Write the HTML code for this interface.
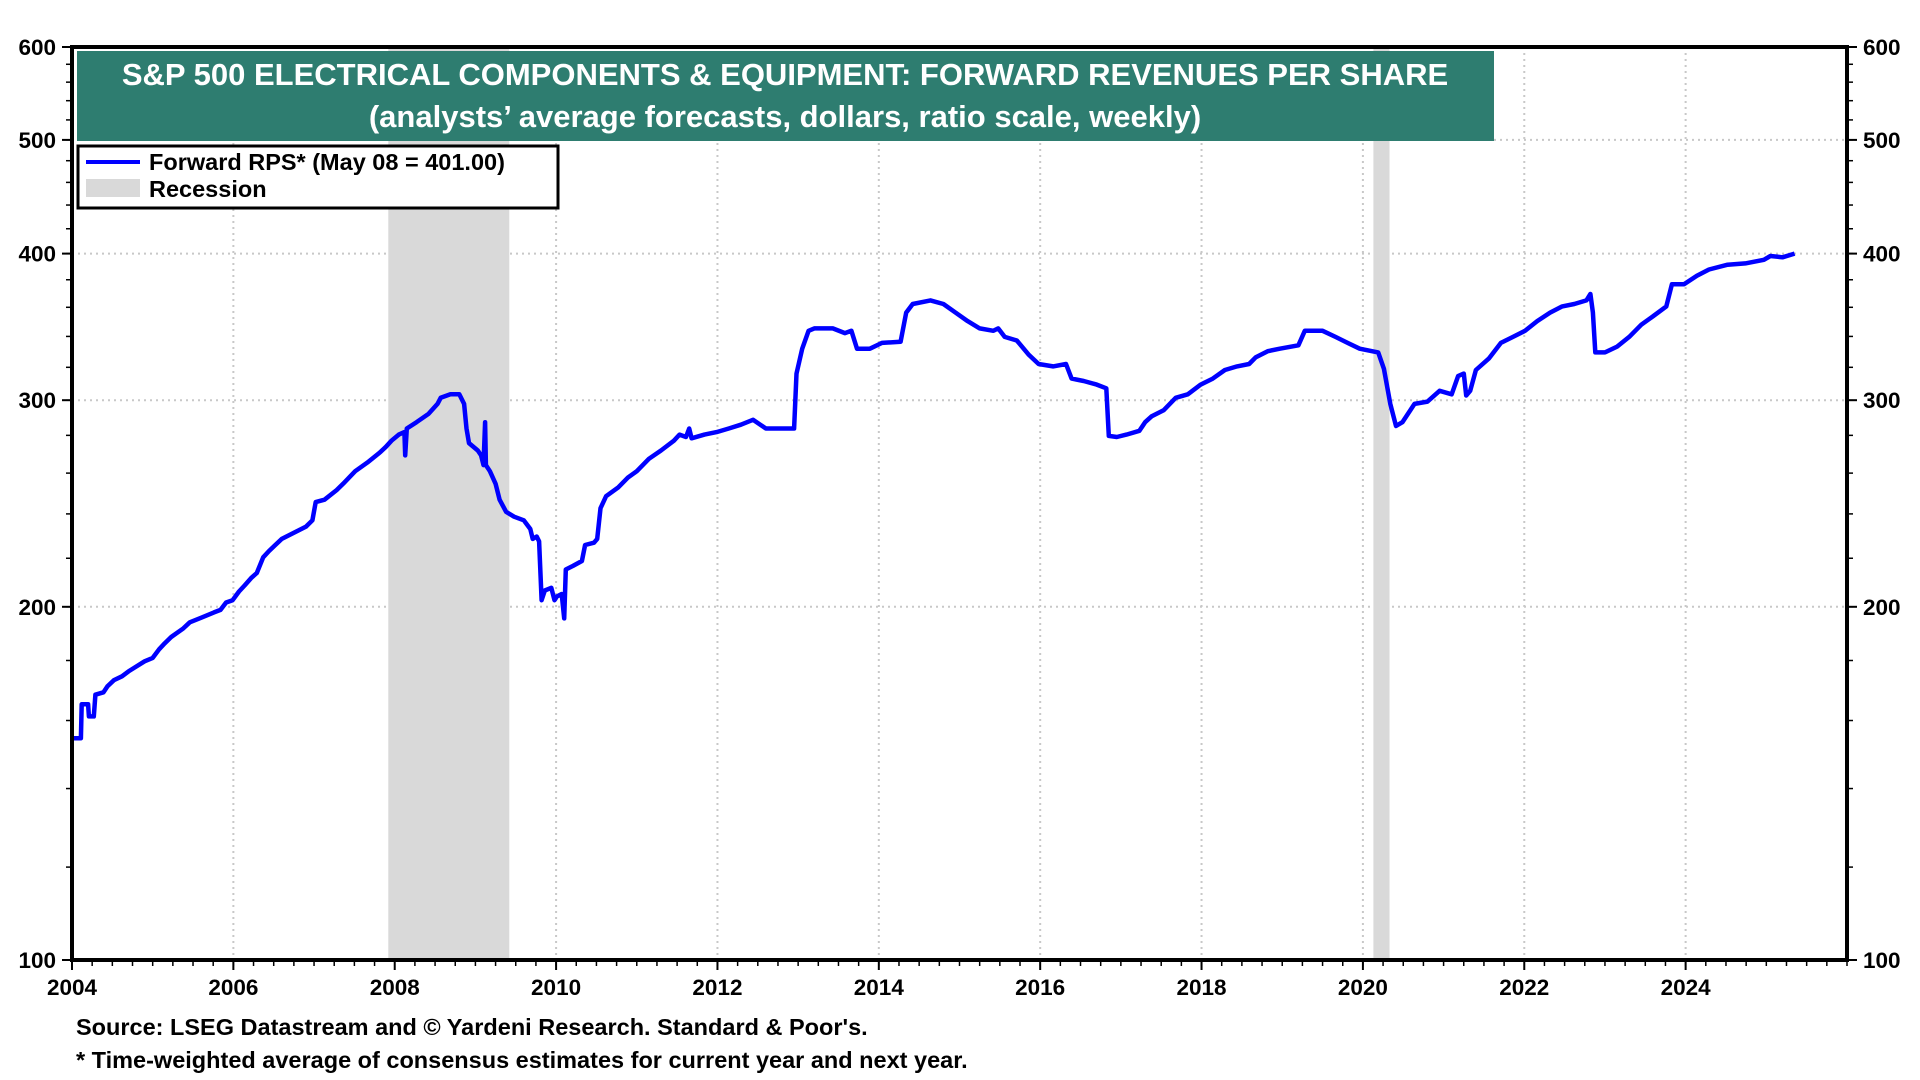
<!DOCTYPE html>
<html><head><meta charset="utf-8"><style>
html,body{margin:0;padding:0;background:#fff;width:1920px;height:1080px;overflow:hidden}
svg text{font-family:"Liberation Sans",Arial,sans-serif;font-weight:bold}
</style></head><body>
<svg id="chart" width="1920" height="1080" xmlns="http://www.w3.org/2000/svg">
<g id="grid"></g>
<g id="rec"></g>
<g id="series"></g>
<g id="axes"></g>
<rect x="77" y="51" width="1417" height="90" fill="#2e7d70"/>
<text x="785" y="85" font-size="31" fill="#fff" text-anchor="middle">S&amp;P 500 ELECTRICAL COMPONENTS &amp; EQUIPMENT: FORWARD REVENUES PER SHARE</text>
<text x="785" y="127" font-size="31" fill="#fff" text-anchor="middle">(analysts’ average forecasts, dollars, ratio scale, weekly)</text>
<g>
<rect x="78" y="146" width="480" height="62" fill="#fff" stroke="#000" stroke-width="3"/>
<line x1="86" y1="162" x2="140" y2="162" stroke="#0000ff" stroke-width="4"/>
<text x="149" y="170" font-size="23.5">Forward RPS* (May 08 = 401.00)</text>
<rect x="86" y="179" width="54" height="18" fill="#d9d9d9"/>
<text x="149" y="197" font-size="23.5">Recession</text>
</g>
<text x="76" y="1035" font-size="23.5">Source: LSEG Datastream and © Yardeni Research. Standard &amp; Poor's.</text>
<text x="76" y="1068" font-size="23.5">* Time-weighted average of consensus estimates for current year and next year.</text>
</svg>
<script>
const years=[2004.00,2004.11,2004.12,2004.20,2004.21,2004.27,2004.29,2004.39,2004.44,2004.52,2004.62,2004.70,2004.77,2004.90,2005.00,2005.08,2005.15,2005.23,2005.38,2005.46,2005.61,2005.76,2005.84,2005.91,2005.99,2006.07,2006.14,2006.22,2006.29,2006.37,2006.44,2006.52,2006.60,2006.75,2006.90,2006.98,2007.02,2007.13,2007.28,2007.36,2007.51,2007.66,2007.81,2007.89,2007.96,2008.05,2008.12,2008.13,2008.15,2008.27,2008.42,2008.53,2008.57,2008.69,2008.80,2008.86,2008.89,2008.92,2009.03,2009.07,2009.10,2009.12,2009.13,2009.18,2009.25,2009.30,2009.38,2009.48,2009.60,2009.68,2009.71,2009.76,2009.79,2009.82,2009.86,2009.94,2009.98,2010.01,2010.07,2010.10,2010.12,2010.21,2010.32,2010.36,2010.47,2010.51,2010.55,2010.62,2010.77,2010.89,2011.00,2011.15,2011.30,2011.46,2011.53,2011.61,2011.65,2011.68,2011.84,2011.99,2012.14,2012.29,2012.44,2012.60,2012.95,2012.98,2013.05,2013.13,2013.20,2013.43,2013.58,2013.66,2013.73,2013.89,2014.04,2014.27,2014.34,2014.42,2014.64,2014.80,2014.95,2015.10,2015.25,2015.42,2015.48,2015.56,2015.71,2015.86,2015.98,2016.16,2016.32,2016.39,2016.54,2016.70,2016.82,2016.85,2016.95,2017.07,2017.23,2017.30,2017.38,2017.53,2017.68,2017.83,2017.99,2018.14,2018.29,2018.44,2018.59,2018.67,2018.82,2018.97,2019.20,2019.28,2019.50,2019.66,2019.81,2019.96,2020.19,2020.26,2020.34,2020.41,2020.49,2020.64,2020.80,2020.95,2021.10,2021.18,2021.25,2021.28,2021.33,2021.40,2021.56,2021.71,2021.86,2022.01,2022.16,2022.32,2022.47,2022.62,2022.77,2022.82,2022.85,2022.88,2023.00,2023.15,2023.30,2023.45,2023.60,2023.76,2023.83,2023.98,2024.14,2024.29,2024.52,2024.74,2024.97,2025.05,2025.20,2025.35];
const rps=[154.5,154.5,165.2,165.2,161.3,161.3,168.3,169.1,171.1,173.2,174.5,176.2,177.4,179.7,180.9,184.0,186.2,188.5,191.7,194.0,195.9,197.8,198.8,201.7,202.6,206.1,208.6,211.6,213.7,220.4,223.1,225.8,228.5,231.3,234.1,237.0,245.6,246.8,251.5,254.6,261.0,265.4,270.5,273.8,277.1,280.4,281.8,269.2,283.8,287.3,292.1,297.8,301.4,303.5,303.5,297.8,283.8,275.8,271.8,269.2,264.1,287.3,264.1,261.0,254.6,246.8,241.0,238.7,237.0,233.0,228.5,229.6,227.4,202.6,206.5,207.6,202.6,204.1,205.1,195.5,215.2,216.7,218.8,225.8,226.8,228.5,242.7,248.5,252.8,257.7,261.0,267.4,271.8,277.1,280.4,279.1,283.8,278.4,280.4,281.8,283.8,285.9,288.7,283.8,283.8,316.1,331.9,343.8,345.4,345.4,342.2,343.8,331.9,331.9,335.7,336.5,356.3,362.3,364.9,362.3,356.3,350.4,345.4,343.8,345.4,339.7,337.3,327.9,322.1,320.6,322.1,313.0,311.5,309.3,307.1,279.7,279.1,280.4,282.5,287.3,290.6,294.1,301.4,303.5,309.3,313.0,318.3,320.6,322.1,326.3,330.3,331.9,334.1,343.8,343.8,339.7,335.7,331.9,329.5,319.1,297.8,285.2,287.3,297.8,299.2,305.6,303.5,314.5,316.1,302.8,305.6,318.3,325.5,335.7,339.7,343.8,350.4,356.3,360.6,362.3,364.9,369.5,356.3,329.5,329.5,333.3,339.7,347.9,353.9,360.6,376.6,376.6,383.0,387.7,391.4,392.4,395.2,398.1,397.1,400.0];
const recStart=[2007.92,2020.13];
const recEnd=[2009.42,2020.33];
const yTicks=[100,200,300,400,500,600];
const xTickYears=[2004,2006,2008,2010,2012,2014,2016,2018,2020,2022,2024];

const L=72,R=1847,T=47,B=960,X0=2004,X1=2026,YMIN=100,YMAX=600;
const NS="http://www.w3.org/2000/svg";
function xs(v){return L+(v-X0)/(X1-X0)*(R-L);}
function ys(v){return B-Math.log(v/YMIN)/Math.log(YMAX/YMIN)*(B-T);}
function mk(tag,attrs,parent){const e=document.createElementNS(NS,tag);for(const k in attrs)e.setAttribute(k,attrs[k]);parent.appendChild(e);return e;}
const grid=document.getElementById('grid'),rec=document.getElementById('rec'),ser=document.getElementById('series'),ax=document.getElementById('axes');
yTicks.forEach(v=>{if(v===100||v===600)return;
 const l=mk('line',{x1:L,x2:R,y1:ys(v),y2:ys(v),stroke:'#c8c8c8','stroke-width':2,'stroke-dasharray':'2,4'},grid);
 
 });
xTickYears.forEach(v=>{if(v===2004)return;
 const l=mk('line',{x1:xs(v),x2:xs(v),y1:T,y2:B,stroke:'#c8c8c8','stroke-width':2,'stroke-dasharray':'2,4'},grid);
 
 });
recStart.forEach((s,i)=>{
 const r=mk('rect',{x:xs(s),y:T,width:xs(recEnd[i])-xs(s),height:B-T,fill:'#d9d9d9'},rec);
 
 });
let d='';years.forEach((y,i)=>{d+=(i?'L':'M')+xs(y).toFixed(1)+','+ys(rps[i]).toFixed(1);});
const p=mk('path',{d:d,fill:'none',stroke:'#0000ff','stroke-width':4.5,'stroke-linejoin':'round'},ser);


const fr=mk('rect',{x:L,y:T,width:R-L,height:B-T,fill:'none',stroke:'#000','stroke-width':4},ax);


for(let v=100;v<=600;v+=20){
 mk('line',{x1:L-6,x2:L,y1:ys(v),y2:ys(v),stroke:'#000','stroke-width':1.5},ax);
 mk('line',{x1:R,x2:R+6,y1:ys(v),y2:ys(v),stroke:'#000','stroke-width':1.5},ax);}
yTicks.forEach(v=>{
 mk('line',{x1:L-10,x2:L,y1:ys(v),y2:ys(v),stroke:'#000','stroke-width':2},ax);
 mk('line',{x1:R,x2:R+10,y1:ys(v),y2:ys(v),stroke:'#000','stroke-width':2},ax);
 const t=mk('text',{x:L-16,y:ys(v)+8,'font-size':22.5,'text-anchor':'end'},ax);t.textContent=v;
 
 
 const t2=mk('text',{x:R+16,y:ys(v)+8,'font-size':22.5},ax);t2.textContent=v;
 
 });
for(let q=X0;q<=X1;q+=0.25){mk('line',{x1:xs(q),x2:xs(q),y1:B,y2:B+6,stroke:'#000','stroke-width':1.5},ax);}
xTickYears.forEach(v=>{
 mk('line',{x1:xs(v),x2:xs(v),y1:B,y2:B+10,stroke:'#000','stroke-width':2},ax);
 const t=mk('text',{x:xs(v),y:B+35,'font-size':22.5,'text-anchor':'middle'},ax);t.textContent=v;
 
 });
</script>
</body></html>
